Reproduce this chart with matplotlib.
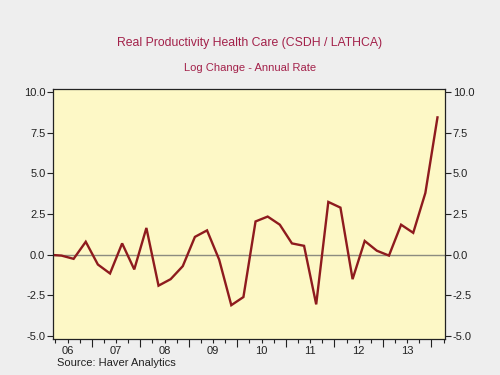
import matplotlib
matplotlib.use("Agg")
import matplotlib.pyplot as plt
import numpy as np

plt.rcParams['font.family'] = ['Liberation Sans', 'DejaVu Sans']

# Quarterly data 2006Q1 .. 2014Q1
years = [2006]*4 + [2007]*4 + [2008]*4 + [2009]*4 + [2010]*4 + [2011]*4 + [2012]*4 + [2013]*4 + [2014]
quarters = [1, 2, 3, 4]*8 + [1]
values = [0.0, -0.05, -0.25, 0.8,
          -0.6, -1.15, 0.7, -0.9,
          1.65, -1.9, -1.5, -0.7,
          1.1, 1.5, -0.3, -3.1,
          -2.6, 2.05, 2.35, 1.85,
          0.7, 0.55, -3.05, 3.25,
          2.9, -1.5, 0.85, 0.25,
          -0.05, 1.85, 1.35, 3.8,
          8.45]
year_labels = ['06', '07', '08', '09', '10', '11', '12', '13']
y_ticks = [-5.0, -2.5, 0.0, 2.5, 5.0, 7.5, 10.0]

title = "Real Productivity Health Care (CSDH / LATHCA)"
subtitle = "Log Change - Annual Rate"
source = "Source: Haver Analytics"

x = np.array(years) + (np.array(quarters) - 0.5) / 4.0

fig = plt.figure(figsize=(5, 3.75), dpi=100, facecolor='#eeeeee')
ax = fig.add_axes([0.106, 0.096, 0.784, 0.666])
ax.set_facecolor('#fdf8c6')

ax.axhline(0, color='#8c8c80', lw=1.0, zorder=1)
ax.plot(x, values, color='#8e1b1e', lw=1.7, zorder=2, solid_joinstyle='miter')

ax.set_xlim(2006.2, 2014.28)
ax.set_ylim(-5.18, 10.18)

ax.set_yticks(y_ticks)
ax.set_yticklabels([f"{v:.1f}" for v in y_ticks])
ax.tick_params(axis='y', which='both', left=True, right=True, labelleft=True, labelright=True,
               direction='out', length=4, width=0.8, labelsize=8, colors='#222222', pad=1.5)

ax.set_xticks(np.arange(2007, 2015))
ax.set_xticklabels([])
ax.set_xticks(np.arange(2006.25, 2014.3, 0.25), minor=True)
ax.tick_params(axis='x', which='major', direction='out', length=6, width=0.8, color='#222222')
ax.tick_params(axis='x', which='minor', direction='out', length=3, width=0.8, color='#222222')

tr = ax.get_xaxis_transform()
for i, lab in enumerate(year_labels):
    ax.text(2006.5 + i, -0.03, lab, transform=tr, ha='center', va='top', fontsize=8, color='#222222')

for s in ax.spines.values():
    s.set_color('#222222')
    s.set_linewidth(0.9)

fig.text(0.5, 0.885, title, ha='center', va='center', fontsize=8.8, color='#a3214a')
fig.text(0.5, 0.818, subtitle, ha='center', va='center', fontsize=8.0, color='#a3214a')
fig.text(0.114, 0.032, source, ha='left', va='center', fontsize=8, color='#222222')

fig.savefig('out.png', dpi=100, facecolor=fig.get_facecolor())
